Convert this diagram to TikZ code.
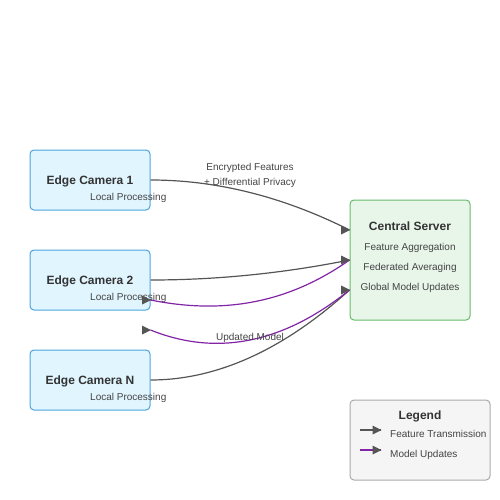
\documentclass[tikz,border=0pt]{standalone}
\usepackage{fontspec}
\setmainfont{Liberation Sans}
\definecolor{camfill}{HTML}{E1F5FE}
\definecolor{camdraw}{HTML}{4AA3DF}
\definecolor{srvfill}{HTML}{E8F5E9}
\definecolor{srvdraw}{HTML}{66BB6A}
\definecolor{legfill}{HTML}{F5F5F5}
\definecolor{legdraw}{HTML}{AAAAAA}
\definecolor{flow}{HTML}{555555}
\definecolor{upd}{HTML}{8224A6}
\definecolor{txt}{HTML}{333333}
\definecolor{small}{HTML}{444444}
\tikzset{
  cambox/.style={draw=camdraw, fill=camfill, line width=1pt, rounded corners=4pt, minimum width=120pt, minimum height=60pt, inner sep=0pt},
  srvbox/.style={draw=srvdraw, fill=srvfill, line width=1pt, rounded corners=4pt, minimum width=120pt, minimum height=120pt, inner sep=0pt},
  legbox/.style={draw=legdraw, fill=legfill, line width=1pt, rounded corners=4pt, minimum width=140pt, minimum height=80pt, inner sep=0pt},
  ttl/.style={font=\fontsize{12}{14}\selectfont\bfseries, text=txt, inner sep=0pt},
  sub/.style={font=\fontsize{10}{12}\selectfont, text=small, inner sep=0pt},
  featline/.style={draw=flow, line width=1.2pt},
  updline/.style={draw=upd, line width=1.2pt},
  tip/.style={fill=flow, draw=none}
}
\newcommand{\arrtip}[1]{\fill[tip] ([shift={(-8.5pt,-4.5pt)}]#1) -- ([shift={(-8.5pt,4.5pt)}]#1) -- ([shift={(0.5pt,0pt)}]#1) -- cycle;}
\begin{document}
\begin{tikzpicture}[x=1pt,y=-1pt]
\useasboundingbox (0,0) rectangle (500,500);
% cameras
\node[cambox] (c1) at (90,180) {};
\node[ttl] (c1t) at (90,181) {Edge Camera 1};
\node[sub,anchor=base west] (c1s) at (90,200.5) {Local Processing};
\node[cambox] (c2) at (90,280) {};
\node[ttl] (c2t) at (90,281) {Edge Camera 2};
\node[sub,anchor=base west] (c2s) at (90,300.5) {Local Processing};
\node[cambox] (c3) at (90,380) {};
\node[ttl] (c3t) at (90,381) {Edge Camera N};
\node[sub,anchor=base west] (c3s) at (90,400.5) {Local Processing};
% server
\node[srvbox] (srv) at (410,260) {};
\node[ttl] (srvt) at (410,226) {Central Server};
\node[sub,anchor=base] (s1) at (410,250) {Feature Aggregation};
\node[sub,anchor=base] (s2) at (410,270) {Federated Averaging};
\node[sub,anchor=base] (s3) at (410,290) {Global Model Updates};
% anchor coordinates (yshift is in page direction: positive = up)
\coordinate (in1) at ([yshift=30pt]srv.west);
\coordinate (in2) at (srv.west);
\coordinate (in3) at ([yshift=-30pt]srv.west);
\coordinate (u1) at ([yshift=-20pt]c2.east);
\coordinate (u2) at ([yshift=-50pt]c2.east);
% feature transmission
\draw[featline] (c1.east) .. controls (216.7,180) and (283.3,196.7) .. (in1);
\draw[featline] (c2.east) .. controls (216.7,280) and (283.3,273.3) .. (in2);
\draw[featline] (c3.east) .. controls (216.7,380) and (283.3,350) .. (in3);
% model updates
\draw[updline] (in2) .. controls (283.3,306.7) and (216.7,313.3) .. (u1);
\draw[updline] (in3) .. controls (283.3,343.3) and (216.7,356.7) .. (u2);
% tips
\arrtip{in1}
\arrtip{in2}
\arrtip{in3}
\arrtip{u1}
\arrtip{u2}
% labels
\node[sub,anchor=base] (l1) at (250,170) {Encrypted Features};
\node[sub,anchor=base] (l2) at (250,185) {+ Differential Privacy};
\node[sub,anchor=base] (l3) at (250,340) {Updated Model};
% legend
\node[legbox] (leg) at (420,440) {};
\node[ttl] (legt) at (420,416) {Legend};
\coordinate (lf0) at (360,430);
\coordinate (lf1) at (381,430);
\coordinate (lu0) at (360,450);
\coordinate (lu1) at (381,450);
\draw[featline] (lf0) -- (lf1);
\draw[updline] (lu0) -- (lu1);
\arrtip{lf1}
\arrtip{lu1}
\node[sub,anchor=base west] (lft) at (390,437) {Feature Transmission};
\node[sub,anchor=base west] (lut) at (390,457) {Model Updates};
\end{tikzpicture}
\end{document}
